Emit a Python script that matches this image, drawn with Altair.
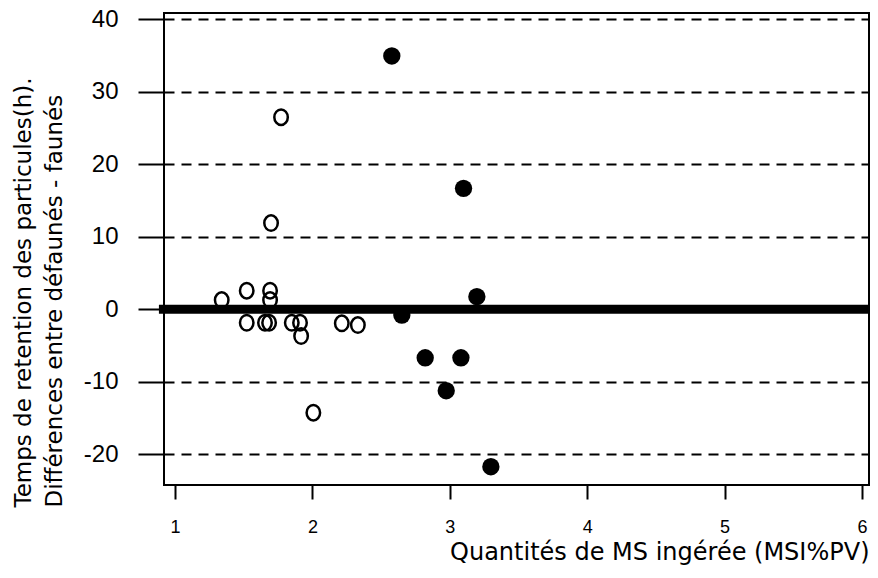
import altair as alt
import pandas as pd

# ---- data ----
open_x = [1.340, 1.522, 1.692, 1.692, 1.522, 1.655, 1.685, 1.850, 1.910, 1.918, 2.007, 2.214, 2.331, 1.699, 1.772]
open_y = [1.28, 2.57, 2.57, 1.28, -1.85, -1.85, -1.85, -1.85, -1.85, -3.68, -14.26, -1.93, -2.17, 11.9, 26.5]
filled_x = [2.578, 3.100, 3.197, 2.651, 2.821, 3.081, 2.974, 3.299]
filled_y = [34.94, 16.69, 1.74, -0.79, -6.68, -6.68, -11.23, -21.71]
x_ticks = [1, 2, 3, 4, 5, 6]
y_ticks = [-20, -10, 0, 10, 20, 30, 40]
x_domain = [0.92, 6.051]
y_domain = [-24.23, 40.87]
zero_line_x = [0.883, 6.051]

FONT = "Liberation Sans"
TFONT = "DejaVu Sans"
W, H = 705, 472

open_df = pd.DataFrame({"x": open_x, "y": open_y})
filled_df = pd.DataFrame({"x": filled_x, "y": filled_y})
zero_df = pd.DataFrame({"x": [zero_line_x[0]], "x2": [zero_line_x[1]], "y": [0]})

xs = alt.Scale(domain=x_domain, nice=False, zero=False)
ys = alt.Scale(domain=y_domain, nice=False, zero=False)

xaxis = alt.Axis(
    values=x_ticks, title="Quantités de MS ingérée (MSI%PV)", domain=False, grid=False,
    tickSize=14, tickWidth=2, tickColor="black",
    labelFont=FONT, labelFontSize=18, labelPadding=19, labelColor="black",
    titleFont=TFONT, titleFontSize=24, titleFontWeight="normal", titleColor="black",
    titleAlign="right", titleAnchor="end", titleX=W, titleY=74, titleBaseline="alphabetic",
)
yaxis = alt.Axis(
    values=y_ticks,
    title=["Temps de retention des particules(h).", "Différences entre défaunés - faunés"],
    domain=False, grid=True, gridDash=[10, 7], gridWidth=2, gridColor="black", gridOpacity=1,
    tickSize=26, tickWidth=2, tickColor="black",
    labelFont=FONT, labelFontSize=24, labelPadding=20, labelColor="black",
    labelExpr="'' + datum.value",
    titleFont=TFONT, titleFontSize=23, titleFontWeight="normal", titleColor="black",
    titleAngle=270, titleAlign="left", titleBaseline="bottom",
    titleX=-129, titleY=494, titleLineHeight=31,
)

ellipse = "M -0.87 0 A 0.87 1 0 1 1 0.87 0 A 0.87 1 0 1 1 -0.87 0 Z"

open_pts = alt.Chart(open_df).mark_point(
    shape=ellipse, filled=False, stroke="black", strokeWidth=2.5, size=240, opacity=1
).encode(
    x=alt.X("x:Q", scale=xs, axis=xaxis),
    y=alt.Y("y:Q", scale=ys, axis=yaxis),
)

filled_pts = alt.Chart(filled_df).mark_point(
    shape="circle", filled=True, fill="black", strokeWidth=0, size=300, opacity=1
).encode(
    x=alt.X("x:Q", scale=xs, axis=xaxis),
    y=alt.Y("y:Q", scale=ys, axis=yaxis),
)

zero = alt.Chart(zero_df).mark_rule(color="black", strokeWidth=9).encode(
    x=alt.X("x:Q", scale=xs, axis=xaxis),
    x2="x2:Q",
    y=alt.Y("y:Q", scale=ys, axis=yaxis),
)

chart = alt.layer(open_pts, filled_pts, zero).properties(
    width=W, height=H,
    autosize=alt.AutoSizeParams(type="none"),
    padding={"left": 156, "top": 5, "right": 1, "bottom": 82},
).configure_view(stroke="black", strokeWidth=2)

chart.save("out.html", embed_options={"renderer": "svg", "actions": False})
